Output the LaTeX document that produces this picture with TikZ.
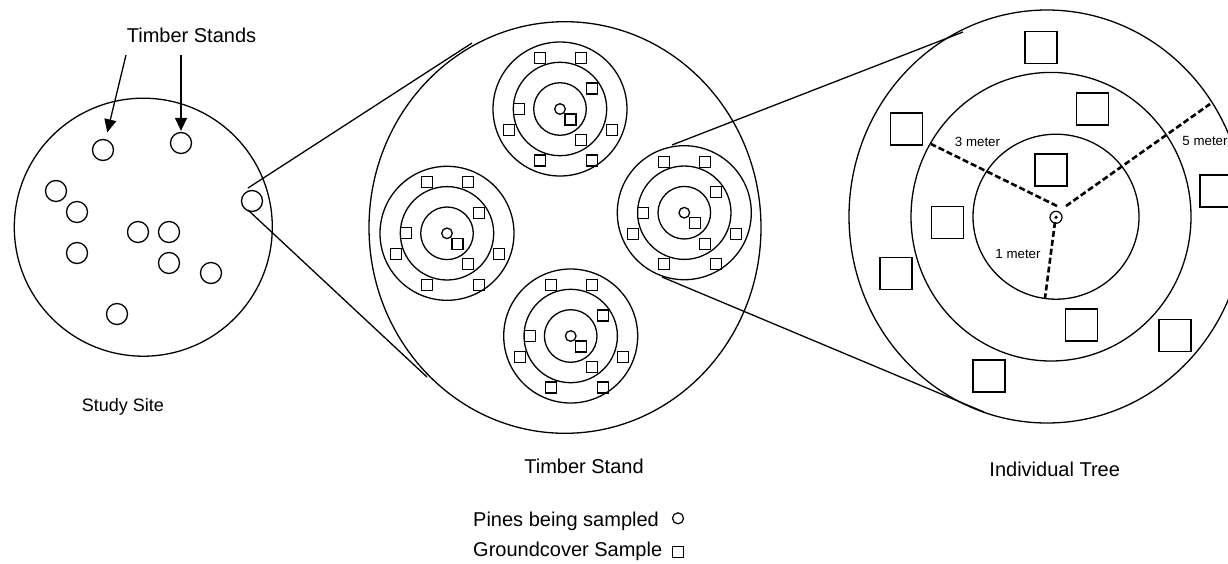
\documentclass[tikz,border=0pt]{standalone}
\usepackage{fontspec}
\setmainfont{Liberation Sans}
\usetikzlibrary{arrows.meta}
\tikzset{
  ln/.style={line width=1.3pt},
  stand/.style={circle, draw, line width=1.3pt, minimum size=21pt, inner sep=0pt},
  sq/.style={draw, line width=1.2pt, minimum size=11pt, inner sep=0pt},
  bigsq/.style={draw, line width=1.3pt, minimum size=32pt, inner sep=0pt},
  dsh/.style={line width=2.6pt, dash pattern=on 6pt off 3pt},
  arr/.style={line width=1.3pt, -{Triangle[length=13pt,width=12pt]}},
  lbl/.style={font=\fontsize{20}{24}\selectfont, inner sep=0pt, anchor=base},
  smalllbl/.style={font=\fontsize{13.3}{16}\selectfont, inner sep=0pt, anchor=base},
  cluster/.pic={
    \draw[ln] (0,0) circle[radius=67] (0,0) circle[radius=46.7] (0,0) circle[radius=26.3] (0,0) circle[radius=5.3];
    \foreach \a/\b in {-20/-51, 21/-51, 32/-20.5, -41/0, 10.5/10.5, -51/21, 52/21, 21/31, -20/51.5, 32/51.5}
      \node[sq] at (\a,\b) {};
  }
}
\begin{document}
\begin{tikzpicture}[x=1pt,y=-1pt]
\useasboundingbox[fill=white] (0,0) rectangle (1228,563);

% ---------- Study site ----------
\node[circle, draw, line width=1.3pt, minimum size=258pt, inner sep=0pt] (site) at (143.3,227.2) {};
\node[stand] (s1) at (103,150) {};
\node[stand] (s2) at (181,143) {};
\node[stand] (s3) at (56,191) {};
\node[stand] (s4) at (77,212) {};
\node[stand] (s5) at (77,253) {};
\node[stand] (s6) at (138,232) {};
\node[stand] (s7) at (169,232) {};
\node[stand] (s8) at (169,263) {};
\node[stand] (s9) at (211,273) {};
\node[stand] (s10) at (117,314) {};
\node[stand] (s11) at (252,201) {};

\node[lbl] (tslabel) at (191.5,42.7) {Timber Stands};
\coordinate (a1) at (126,55);
\coordinate (a2) at (181,55);
\draw[arr, shorten >=7pt] (a1) -- (s1);
\draw[arr, shorten >=1pt] (a2) -- (s2);

\node[lbl, font=\fontsize{18}{22}\selectfont] (sitelabel) at (122.8,411.7) {Study Site};

% zoom lines site -> stand
\coordinate (z1a) at (248,188);
\coordinate (z1b) at (472,43);
\coordinate (z2a) at (248,210);
\coordinate (z2b) at (427,377);
\draw[ln] (z1a) -- (z1b);
\draw[ln] (z2a) -- (z2b);

% ---------- Timber stand ----------
\draw[ln] (565,227.5) ellipse[x radius=196, y radius=205.8];
\pic at (560,109) {cluster};
\pic at (447,233.3) {cluster};
\pic at (570.7,336) {cluster};
\pic at (684.3,212.7) {cluster};
\node[lbl] (standlabel) at (584,473) {Timber Stand};

% zoom lines stand -> tree
\coordinate (z3a) at (672,145);
\coordinate (z3b) at (963,32);
\coordinate (z4a) at (662,277);
\coordinate (z4b) at (984,412);
\draw[ln] (z3a) -- (z3b);
\draw[ln] (z4a) -- (z4b);

% ---------- Individual tree ----------
\draw[ln] (1047,216.5) ellipse[x radius=198, y radius=206.5];
\draw[ln] (1051,216.7) ellipse[x radius=140, y radius=144.3];
\draw[ln] (1056,216.7) ellipse[x radius=83, y radius=82.5];
\node[circle, draw, line width=1.2pt, minimum size=12pt, inner sep=0pt] (tree) at (1056,217.3) {};
\fill (tree.center) circle[radius=1.8];

\node[bigsq] (q1) at (1041,47.5) {};
\node[bigsq] (q2) at (1092.5,109) {};
\node[bigsq] (q3) at (906.7,129) {};
\node[bigsq] (q4) at (1051,170) {};
\node[bigsq] (q5) at (1216,191) {};
\node[bigsq] (q6) at (947.5,222.5) {};
\node[bigsq] (q7) at (896,273.5) {};
\node[bigsq] (q8) at (1081.8,325) {};
\node[bigsq] (q9) at (1175,335.5) {};
\node[bigsq] (q10) at (989,376) {};

\coordinate (d3a) at (1057,206);
\coordinate (d3b) at (931,144);
\coordinate (d5a) at (1066,206);
\coordinate (d5b) at (1210,104);
\coordinate (d1a) at (1055,222);
\coordinate (d1b) at (1045,298);
\draw[dsh] (d3a) -- (d3b);
\draw[dsh] (d5a) -- (d5b);
\draw[dsh] (d1a) -- (d1b);

\node[smalllbl] (m3) at (977.5,146.7) {3 meter};
\node[smalllbl] (m5) at (1205,145) {5 meter};
\node[smalllbl] (m1) at (1018,258.3) {1 meter};

\node[lbl] (treelabel) at (1054.7,476.7) {Individual Tree};

% ---------- Legend ----------
\node[lbl, anchor=base west] (leg1) at (473,526.7) {Pines being sampled};
\node[lbl, anchor=base west] (leg2) at (473,556.7) {Groundcover Sample};
\node[circle, draw, line width=1.2pt, minimum size=11pt, inner sep=0pt] (legc) at (678,518.3) {};
\node[sq] (legs) at (678,551.7) {};
\end{tikzpicture}
\end{document}
